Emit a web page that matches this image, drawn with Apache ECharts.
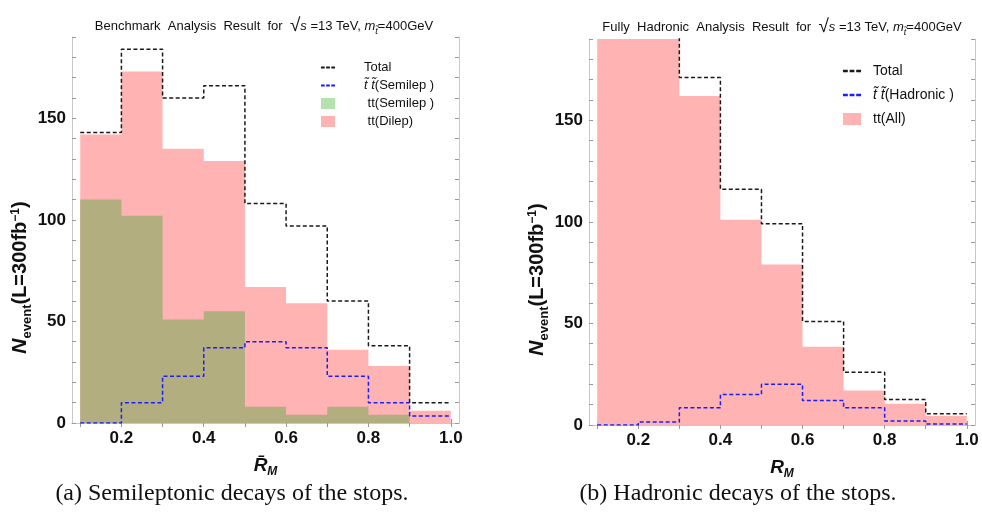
<!DOCTYPE html>
<html>
<head>
<meta charset="utf-8">
<script src="https://cdn.jsdelivr.net/npm/echarts@6/dist/echarts.min.js"></script>
<style>
html,body{margin:0;padding:0;background:#fff;}
#main{width:982px;height:515px;}
</style>
</head>
<body>
<div id="main"></div>
<script>
// bin edges of both histograms
var binEdges=[0.1,0.2,0.3,0.4,0.5,0.6,0.7,0.8,0.9,1.0];
var xTickLabels=[0.2,0.4,0.6,0.8,1.0];
var yTickLabels=[0,50,100,150];

// (a) semileptonic
var totalA=[143,184,160,166,108,97,60,38,10];
var stopSemiA=[0,10,23,37,40,37,23,10,3.5];
var ttSemiA=[110,102,51,55,8,4,8,4,0];
var ttDilepA=[32,71,84,74,59,55,28,24,6];

// (b) hadronic  (first two bins run off the top of the frame)
var totalB=[240,215,171,116,99,51,26,12.5,5.5];
var stopHadB=[0,1.5,8.5,15,20,12,8.5,2,0.5];
var ttAllB=[240,213.5,162,101,79,38.5,17,10.5,4.5];

var FONT='"Liberation Sans", Arial, sans-serif';

function stepData(vals){
	var d=[];
	for(var i=0;i<vals.length;i++){
		d.push([binEdges[i],vals[i]]);
	}
	d.push([binEdges[binEdges.length-1],vals[vals.length-1]]);
	return d;
}
function addUp(a,b){
	var r=[];
	for(var i=0;i<a.length;i++) r.push(a[i]+b[i]);
	return r;
}

var yTicks=[];
for(var v=0;v<=190;v+=10) yTicks.push(v);

var dashIcon='path://M0,0H4V2H0Z M5.5,0H9.5V2H5.5Z M11,0H15V2H11Z';

function xAxes(g,nameRich){
	return [{
		type:'value',gridIndex:g,min:0.08,max:1.02,position:'bottom',
		splitLine:{show:false},
		axisLine:{lineStyle:{color:'#c8c8c8',width:1}},
		axisTick:{inside:true,length:4,lineStyle:{color:'#999'},customValues:binEdges},
		axisLabel:{customValues:xTickLabels,margin:7,color:'#111',fontSize:17,fontWeight:'bold',fontFamily:FONT,
			formatter:function(v){return v.toFixed(1);}},
		name:nameRich,nameLocation:'middle',nameGap:33,
		nameTextStyle:{fontFamily:FONT,color:'#111',rich:{
			R:{fontSize:19,fontWeight:'bold',fontStyle:'italic',fontFamily:FONT,color:'#111',verticalAlign:'bottom'},
			sub:{fontSize:12,fontWeight:'bold',fontStyle:'italic',fontFamily:FONT,color:'#111',verticalAlign:'bottom',padding:[0,0,-3,0]}
		}}
	},{
		type:'value',gridIndex:g,min:0.08,max:1.02,position:'top',
		splitLine:{show:false},
		axisLine:{lineStyle:{color:'#c8c8c8',width:1}},
		axisTick:{inside:true,length:4,lineStyle:{color:'#999'},customValues:binEdges},
		axisLabel:{show:false}
	}];
}
function yAxes(g){
	return [{
		type:'value',gridIndex:g,min:0,max:190,position:'left',
		splitLine:{show:false},
		axisLine:{show:true,lineStyle:{color:'#c8c8c8',width:1}},
		axisTick:{show:true,inside:true,length:4,lineStyle:{color:'#999'},customValues:yTicks},
		axisLabel:{customValues:yTickLabels,margin:6,color:'#111',fontSize:17,fontWeight:'bold',fontFamily:FONT},
		name:'{N|N}{sub|event}{b|(L=300fb}{sup|−1}{b|)}',nameLocation:'middle',nameGap:41,
		nameTextStyle:{padding:[0,95,0,0],rich:{
			N:{fontSize:21,fontWeight:'bold',fontStyle:'italic',fontFamily:FONT,color:'#111',verticalAlign:'bottom'},
			sub:{fontSize:13,fontWeight:'bold',fontFamily:FONT,color:'#111',verticalAlign:'bottom',padding:[0,0,-3,0]},
			b:{fontSize:20,fontWeight:'bold',fontFamily:FONT,color:'#111',verticalAlign:'bottom'},
			sup:{fontSize:12,fontWeight:'bold',fontFamily:FONT,color:'#111',verticalAlign:'top'}
		}}
	},{
		type:'value',gridIndex:g,min:0,max:190,position:'right',
		splitLine:{show:false},
		axisLine:{show:true,lineStyle:{color:'#c8c8c8',width:1}},
		axisTick:{show:true,inside:true,length:4,lineStyle:{color:'#999'},customValues:yTicks},
		axisLabel:{show:false}
	}];
}

function areaSeries(name,xi,yi,vals,color){
	return {name:name,type:'line',xAxisIndex:xi,yAxisIndex:yi,step:'end',symbol:'none',
		data:stepData(vals),lineStyle:{width:0},itemStyle:{color:color},
		areaStyle:{color:color,opacity:1},silent:true};
}
function dashSeries(name,xi,yi,vals,color){
	return {name:name,type:'line',xAxisIndex:xi,yAxisIndex:yi,step:'end',symbol:'none',
		data:stepData(vals),itemStyle:{color:color},
		lineStyle:{color:color,width:1.5,type:[4,2.5]},silent:true};
}

var legendNames={
	totA:'{sp| }Total',
	sigA:'{sp| }{it|t\u0303 t\u0303}(Semilep )',
	semiA:'{sp| } tt(Semilep )',
	dilepA:'{sp| } tt(Dilep)',
	totB:'{sp| }Total',
	sigB:'{sp| }{it|t\u0303 t\u0303}(Hadronic )',
	allB:'{sp| }tt(All)'
};

var PINK='#ffb3b3',OLIVE='#b2ae80',LGREEN='#b3e2ad',BLUE='#1c1cff',BLACK='#1a1a1a';

var titleRich={
	sq:{fontSize:19,fontFamily:FONT,fill:'#111'},
	it:{fontSize:13,fontStyle:'italic',fontFamily:FONT,fill:'#111'},
	sub:{fontSize:9,fontStyle:'italic',fontFamily:FONT,fill:'#111',verticalAlign:'bottom'}
};

var myChart=echarts.init(document.getElementById('main'));
var option={
	animation:false,
	backgroundColor:'#fff',
	grid:[
		{left:72,top:37,width:387,height:386},
		{left:589,top:39,width:386,height:386}
	],
	xAxis:xAxes(0,'{R|R\u0304}{sub|M}').concat(xAxes(1,'{R|R}{sub|M}')),
	yAxis:yAxes(0).concat(yAxes(1)),
	legend:[{
		left:316,top:56,orient:'vertical',itemWidth:14,itemHeight:11,itemGap:5,
		itemStyle:{borderWidth:0},
		data:[
			{name:'totA',icon:dashIcon},
			{name:'sigA',icon:dashIcon},
			{name:'semiA',icon:'rect',itemStyle:{color:LGREEN}},
			{name:'dilepA',icon:'rect'}
		],
		formatter:function(n){return legendNames[n];},
		textStyle:{fontSize:13,fontFamily:FONT,color:'#111',rich:{
			sp:{width:24},
			it:{fontSize:13,fontStyle:'italic',fontFamily:FONT,color:'#111'}
		}}
	},{
		left:838,top:59,orient:'vertical',itemWidth:18,itemHeight:12,itemGap:10,
		itemStyle:{borderWidth:0},
		data:[
			{name:'totB',icon:dashIcon},
			{name:'sigB',icon:dashIcon},
			{name:'allB',icon:'rect'}
		],
		formatter:function(n){return legendNames[n];},
		textStyle:{fontSize:14,fontFamily:FONT,color:'#111',rich:{
			sp:{width:7},
			it:{fontSize:14,fontStyle:'italic',fontFamily:FONT,color:'#111'}
		}}
	}],
	series:[
		// left: background stack drawn as pink, semileptonic tt over it
		areaSeries('dilepA',0,0,addUp(ttSemiA,ttDilepA),PINK),
		areaSeries('semiA',0,0,ttSemiA,OLIVE),
		dashSeries('sigA',0,0,stopSemiA,BLUE),
		dashSeries('totA',0,0,totalA,BLACK),
		// right
		areaSeries('allB',2,2,ttAllB,PINK),
		dashSeries('sigB',2,2,stopHadB,BLUE),
		dashSeries('totB',2,2,totalB,BLACK)
	],
	graphic:[
		{type:'text',x:264,y:26,style:{
			text:'Benchmark  Analysis  Result  for  {sq|√}{it|s} =13 TeV, {it|m}{sub|t\u0303}=400GeV',
			rich:titleRich,font:'13px '+FONT,fill:'#111',align:'center',verticalAlign:'middle'}},
		{type:'text',x:782,y:27,style:{
			text:'Fully  Hadronic  Analysis  Result  for  {sq|√}{it|s} =13 TeV, {it|m}{sub|t\u0303}=400GeV',
			rich:titleRich,font:'13px '+FONT,fill:'#111',align:'center',verticalAlign:'middle'}},
		{type:'text',x:232,y:494,style:{
			text:'(a) Semileptonic decays of the stops.',
			font:'24px "Liberation Serif", "DejaVu Serif", serif',fill:'#111',align:'center',verticalAlign:'middle'}},
		{type:'text',x:738,y:494,style:{
			text:'(b) Hadronic decays of the stops.',
			font:'24px "Liberation Serif", "DejaVu Serif", serif',fill:'#111',align:'center',verticalAlign:'middle'}}
	]
};
myChart.setOption(option);
</script>
</body>
</html>
